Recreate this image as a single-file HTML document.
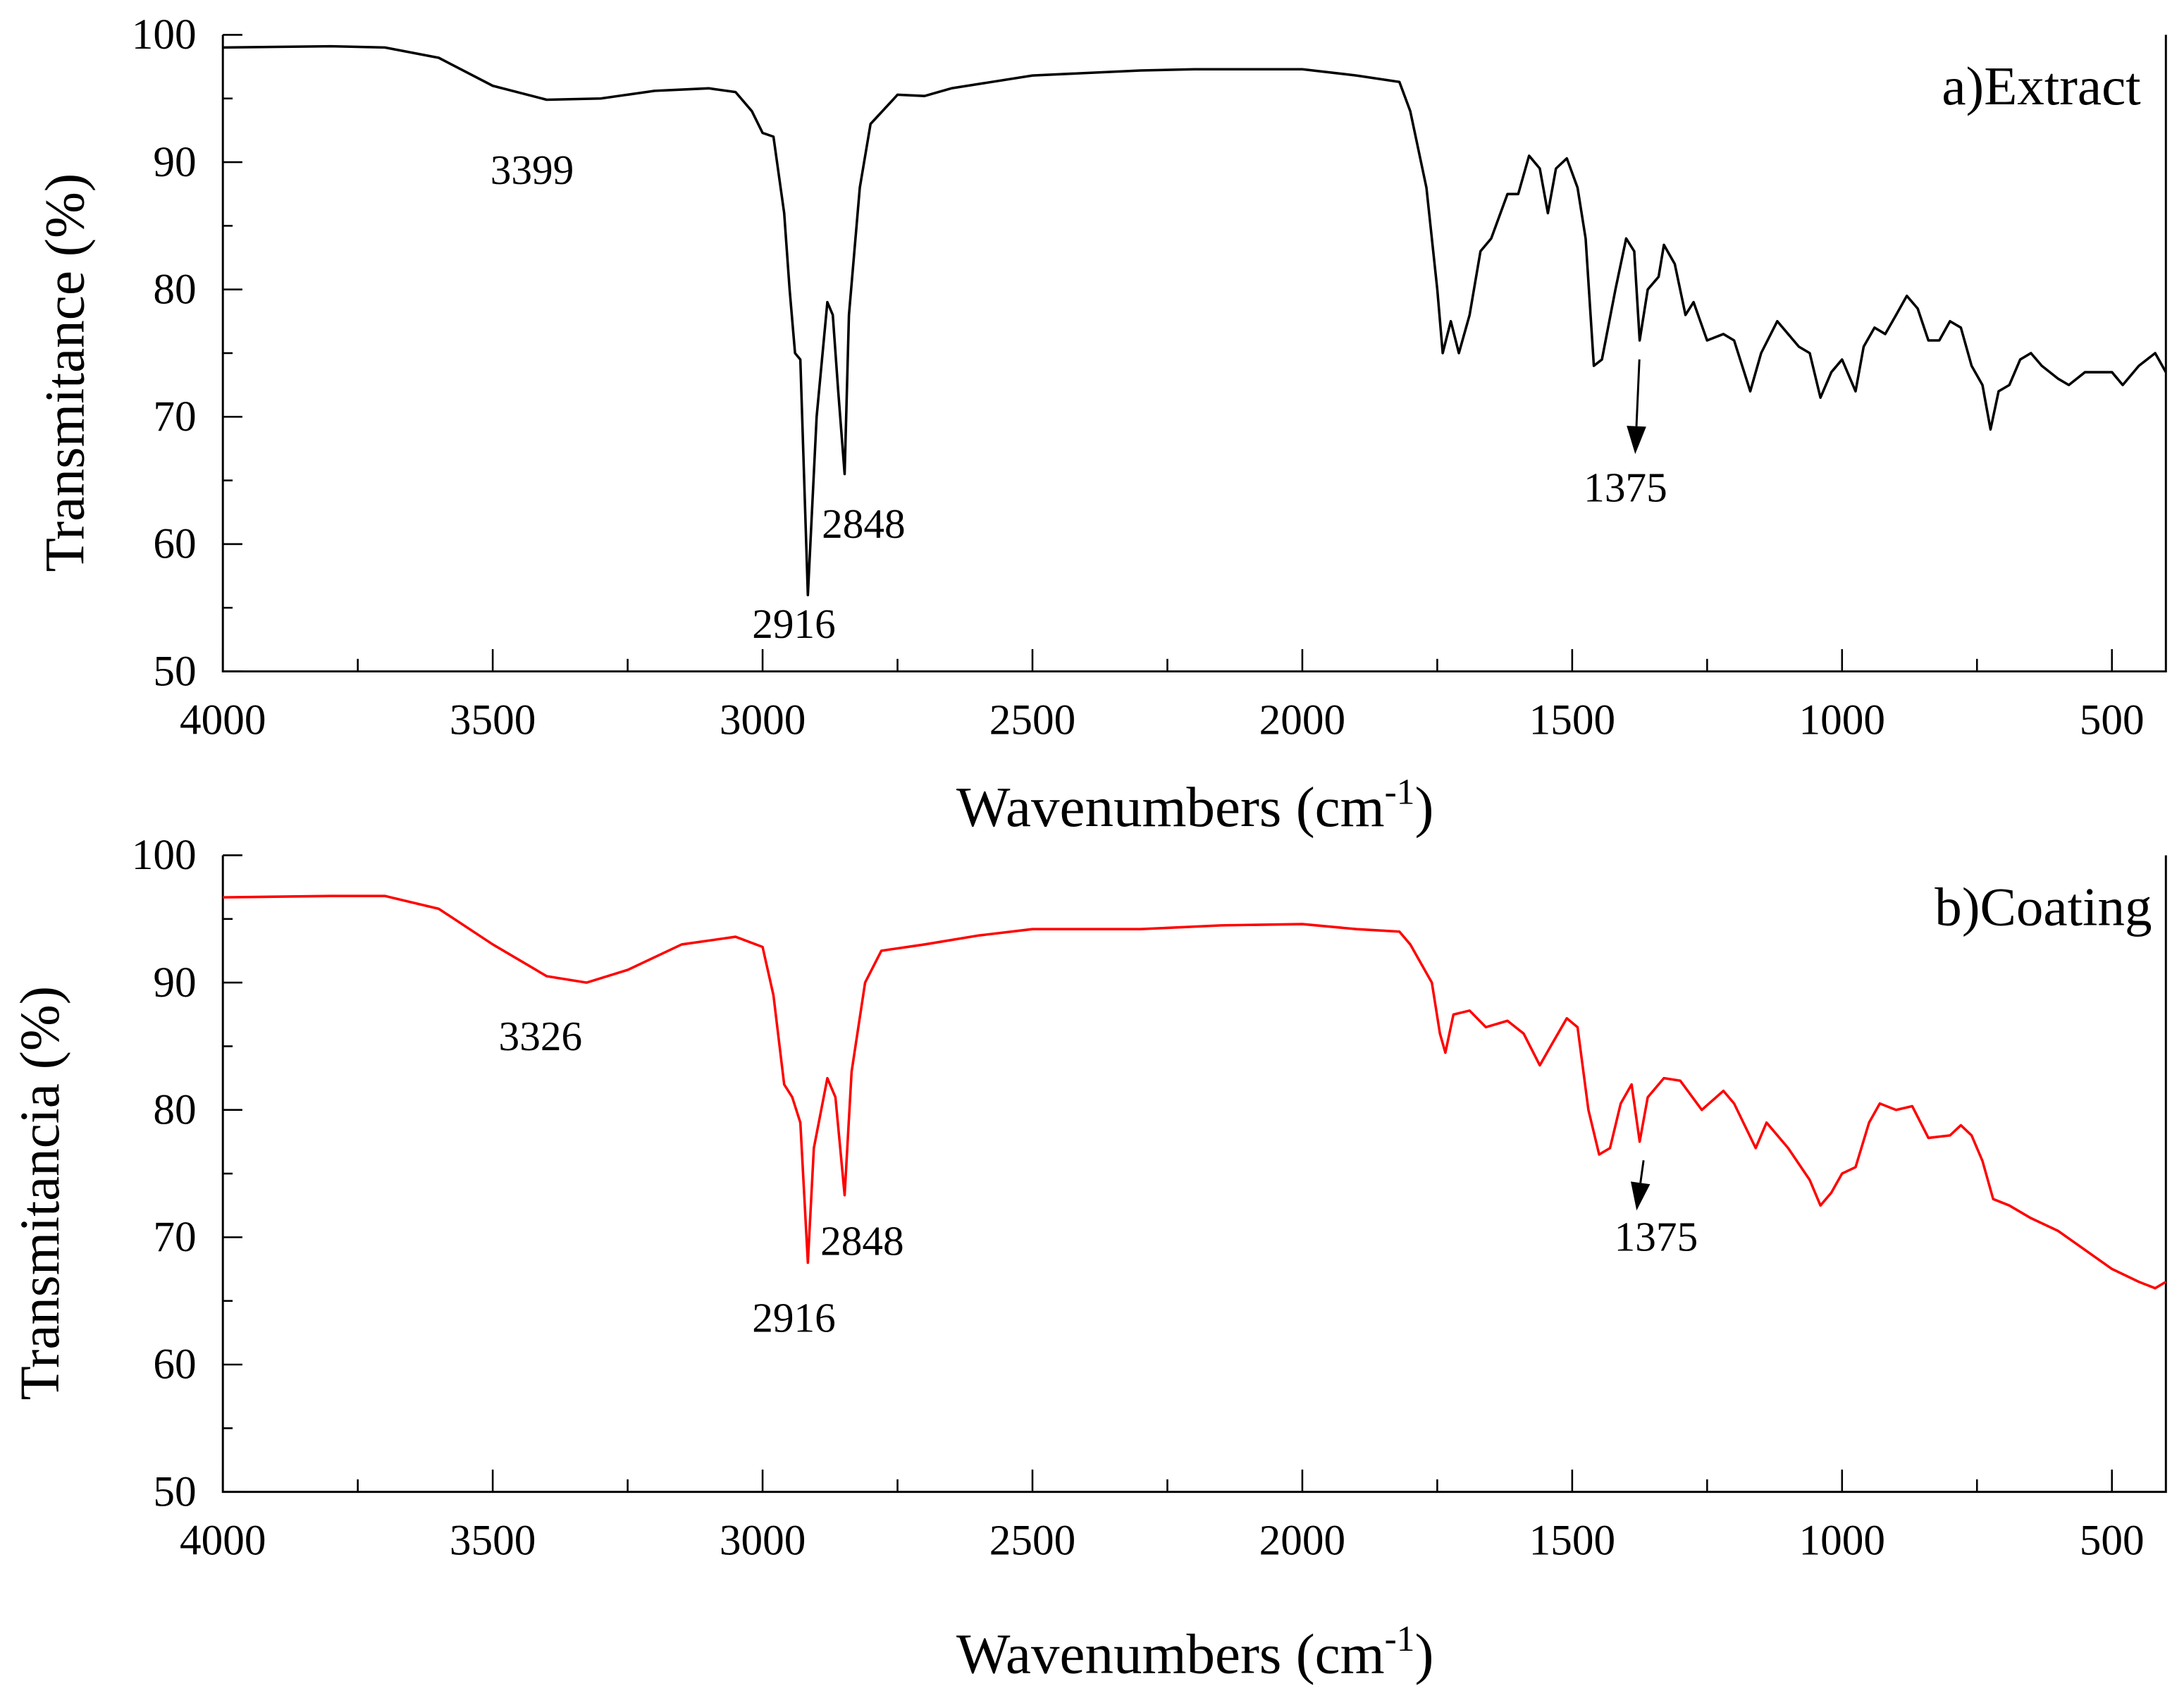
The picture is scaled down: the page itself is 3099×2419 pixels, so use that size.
<!DOCTYPE html>
<html><head><meta charset="utf-8"><style>html,body{margin:0;padding:0;background:#fff}svg{display:block}text{font-family:"Liberation Serif",serif;fill:#000}</style></head>
<body>
<svg id="chart" width="3099" height="2419" viewBox="0 0 1568 1224" preserveAspectRatio="none" xmlns="http://www.w3.org/2000/svg"></svg>
<script>
const xTicks=[4000,3500,3000,2500,2000,1500,1000,500];
const yTicks=[100,90,80,70,60,50];
const extractWn=[4000,3800,3700,3600,3500,3400,3300,3200,3100,3050,3020,3000,2980,2960,2950,2940,2930,2916,2900,2880,2870,2860,2848,2840,2820,2800,2750,2700,2650,2500,2300,2200,2000,1900,1820,1800,1770,1750,1740,1725,1710,1690,1670,1650,1620,1600,1580,1560,1545,1530,1510,1490,1475,1460,1445,1420,1400,1385,1375,1360,1340,1330,1310,1290,1275,1250,1220,1200,1170,1150,1120,1100,1080,1060,1040,1020,1000,975,960,940,920,900,880,860,840,820,800,780,760,740,725,710,690,670,650,630,600,580,550,500,480,450,420,400];
const extractT=[99,99.1,99,98.2,96,94.9,95,95.6,95.8,95.5,94,92.3,92,86,80,75,74.5,56,70,79,78,72,65.5,78,88,93,95.3,95.2,95.8,96.8,97.2,97.3,97.3,96.8,96.3,94,88,80,75,77.5,75,78,83,84,87.5,87.5,90.5,89.5,86,89.5,90.3,88,84,74,74.5,80,84,83,76,80,81,83.5,82,78,79,76,76.5,76,72,75,77.5,76.5,75.5,75,71.5,73.5,74.5,72,75.5,77,76.5,78,79.5,78.5,76,76,77.5,77,74,72.5,69,72,72.5,74.5,75,74,73,72.5,73.5,73.5,72.5,74,75,73.5];
const coatingWn=[4000,3800,3700,3600,3500,3400,3326,3250,3150,3050,3000,2980,2960,2945,2930,2916,2905,2880,2865,2848,2835,2810,2780,2700,2600,2500,2300,2150,2000,1900,1820,1800,1760,1745,1735,1720,1690,1660,1620,1590,1560,1540,1510,1490,1470,1450,1430,1410,1390,1375,1360,1330,1300,1260,1220,1200,1160,1140,1100,1060,1040,1020,1000,975,950,930,900,870,840,800,780,760,740,720,690,650,600,550,500,450,420,400];
const coatingT=[96.7,96.8,96.8,95.8,93,90.5,90,91,93,93.6,92.8,89,82,81,79,68,77,82.5,81,73.3,83,90,92.5,93,93.7,94.2,94.2,94.5,94.6,94.2,94,93,90,86,84.5,87.5,87.8,86.5,87,86,83.5,85,87.2,86.5,80,76.5,77,80.5,82,77.5,81,82.5,82.3,80,81.5,80.5,77,79,77,74.5,72.5,73.5,75,75.5,79,80.5,80,80.3,77.8,78,78.8,78,76,73,72.5,71.5,70.5,69,67.5,66.5,66,66.5];

const NS="http://www.w3.org/2000/svg";
const svg=document.getElementById('chart');
function mk(tag,attrs,parent){const e=document.createElementNS(NS,tag);for(const k in attrs)e.setAttribute(k,attrs[k]);(parent||svg).appendChild(e);return e;}
const X0=160,X1=1555;
function xs(w){return X0+(4000-w)/(4000-400)*(X1-X0);}

function panel(top,bottom,wn,tv,color,ytitle,ytitleX,label,labelX,name){
  const g=mk('g',{});
  
  
  const ys=v=>bottom-(v-50)/50*(bottom-top);
  const frame=mk('path',{d:`M${X0},${top} V${bottom} H${X1} V${top}`,fill:'none',stroke:'#000','stroke-width':1.5},g);
  
  
  for(let v=50;v<=100;v+=5){const len=v%10===0?14:7;mk('line',{x1:X0,x2:X0+len,y1:ys(v),y2:ys(v),stroke:'#000','stroke-width':1.3},g);}
  yTicks.forEach(v=>{const t=mk('text',{x:141,y:ys(v)+10,'font-size':31,'text-anchor':'end'},g);t.textContent=v;
    
    });
  for(let w=4000;w>=500;w-=250){const len=w%500===0?16:9;mk('line',{x1:xs(w),x2:xs(w),y1:bottom,y2:bottom-len,stroke:'#000','stroke-width':1.3},g);}
  xTicks.forEach(w=>{const t=mk('text',{x:xs(w),y:bottom+45,'font-size':31,'text-anchor':'middle'},g);t.textContent=w;
    
    });
  let d='';wn.forEach((w,i)=>{d+=(i?'L':'M')+xs(w).toFixed(1)+','+ys(tv[i]).toFixed(1);});
  const p=mk('path',{d:d,fill:'none',stroke:color,'stroke-width':1.8,'stroke-linejoin':'round'},g);
  
  
  const cy=(top+bottom)/2+14;
  const yt=mk('text',{x:ytitleX,y:cy,'font-size':40,'text-anchor':'middle',transform:`rotate(-90 ${ytitleX} ${cy})`},g);
  yt.textContent=ytitle;
  
  
  const lb=mk('text',{x:labelX,y:top+50,'font-size':39,'text-anchor':'end'},g);
  lb.textContent=label;
  
  
  return ys;
}
function xtitle(y){const t=mk('text',{x:858,y:y,'font-size':41,'text-anchor':'middle'});
  t.innerHTML='Wavenumbers (cm<tspan dy="-16" font-size="26">-1</tspan><tspan dy="16">)</tspan>';
  
  }
function ann(x,y,s){const t=mk('text',{x:x,y:y,'font-size':30,'text-anchor':'middle'});t.textContent=s;
  
  }
function arrow(x1,y1,x2,y2){const a=Math.atan2(y2-y1,x2-x1),L=20,W=7;
  const bx=x2-L*Math.cos(a),by=y2-L*Math.sin(a);
  mk('line',{x1:x1,y1:y1,x2:bx,y2:by,stroke:'#000','stroke-width':1.5});
  const p=mk('polygon',{points:`${x2},${y2} ${bx+W*Math.sin(a)},${by-W*Math.cos(a)} ${bx-W*Math.sin(a)},${by+W*Math.cos(a)}`,fill:'#000'});
  
  }

panel(25,482,extractWn,extractT,'#000','Transmitance (%)',60,'a)Extract',1537,'extract-panel');
panel(614,1071,coatingWn,coatingT,'#ff0000','Transmitancia (%)',42,'b)Coating',1545,'coating-panel');
xtitle(593);xtitle(1201);
ann(382,132,'3399');ann(570,458,'2916');ann(620,386,'2848');ann(1167,360,'1375');
arrow(1177,258,1174,326);
ann(388,754,'3326');ann(570,956,'2916');ann(619,901,'2848');ann(1189,898,'1375');
arrow(1180,833,1175,869);
</script>
</body></html>
